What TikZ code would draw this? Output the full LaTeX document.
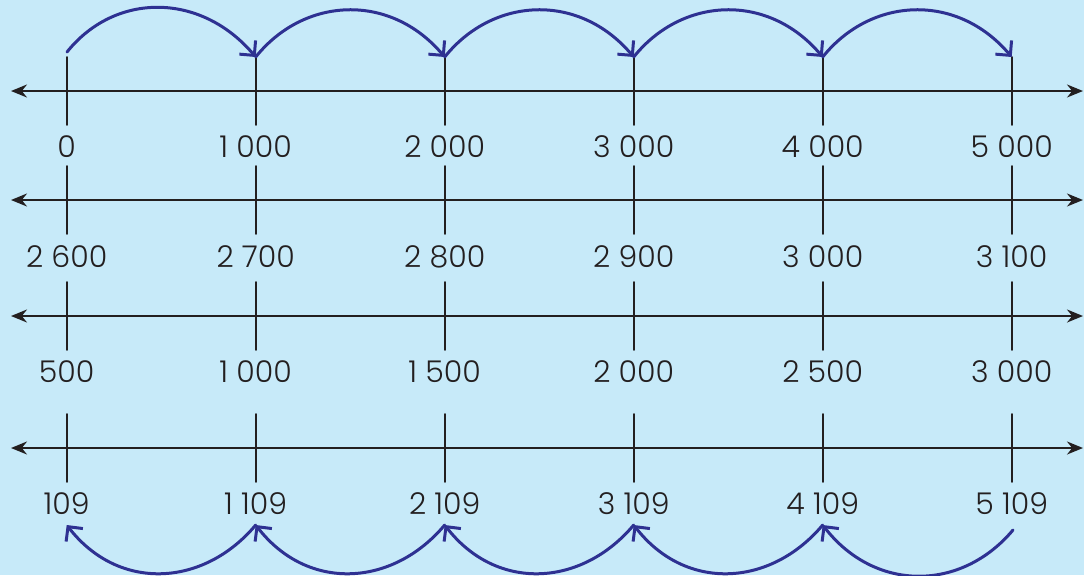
\documentclass[tikz,border=0pt]{standalone}
\usepackage{fontspec}
\setmainfont{Poppins Light}
\usetikzlibrary{arrows.meta}
\usepackage{xcolor}
\definecolor{skybg}{HTML}{C7EAF9}
\definecolor{jumpblue}{HTML}{2E3192}
\definecolor{inkgray}{HTML}{231F20}

\begin{document}
\begin{tikzpicture}[x=0.5pt,y=-0.5pt,line cap=round,
  numline/.style={draw=inkgray,line width=1pt,{Stealth[length=8pt,width=6.5pt]}-{Stealth[length=8pt,width=6.5pt]}},
  tickline/.style={draw=inkgray,line width=0.9pt},
  numlabel/.style={text=inkgray,font=\fontsize{15}{18}\selectfont,inner sep=0pt,anchor=base},
  jump/.style={draw=jumpblue,line width=1.5pt,-{Straight Barb[angle=90:7.5pt]}}]
\fill[skybg] (0,0) rectangle (1084,575);
\useasboundingbox (0,0) rectangle (1084,575);
% number lines with ticks
\foreach \row/\ly in {a/91,b/200,c/316,d/448}{
  \coordinate (\row-l) at (11,\ly);
  \coordinate (\row-r) at (1083,\ly);
  \draw[numline] (\row-l) -- (\row-r);
  \foreach \i in {0,...,5}
    \draw[tickline] ({66.7+189*\i},{\ly-34}) -- ({66.7+189*\i},{\ly+34});
}
% labels
\foreach \i/\v in {0/0,1/1 000,2/2 000,3/3 000,4/4 000,5/5 000}
  \node[numlabel] (a\i) at ({66.7+189*\i},157) {\v};
\foreach \i/\v in {0/2 600,1/2 700,2/2 800,3/2 900,4/3 000,5/3 100}
  \node[numlabel] (b\i) at ({66.7+189*\i},267) {\v};
\foreach \i/\v in {0/500,1/1 000,2/1 500,3/2 000,4/2 500,5/3 000}
  \node[numlabel] (c\i) at ({66.7+189*\i},382) {\v};
\foreach \i/\v in {0/109,1/1 109,2/2 109,3/3 109,4/4 109,5/5 109}
  \node[numlabel] (d\i) at ({66.7+189*\i},514) {\v};
% jump points
\foreach \i in {0,...,5}{
  \coordinate (up\i) at ({66.7+189*\i},57);
  \coordinate (dn\i) at ({66.7+189*\i},525);
}
\coordinate (up0) at (67,52);
\coordinate (dn5) at (1013,530);
% jumps forward (top) and back (bottom)
\foreach \i [evaluate=\i as \j using int(\i+1)] in {0,...,4}{
  \draw[jump] (up\i) .. controls ++(48,-60) and ++(-55,-65) .. (up\j);
  \draw[jump] (dn\j) .. controls ++(-52,62) and ++(52,67) .. (dn\i);
}
\end{tikzpicture}
\end{document}
